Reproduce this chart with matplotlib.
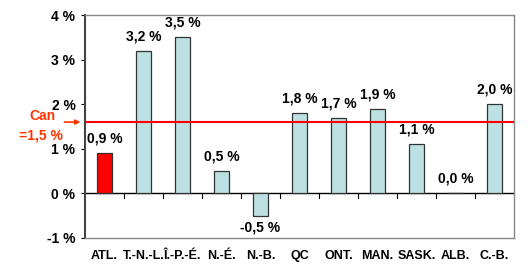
import matplotlib
matplotlib.use("Agg")
import matplotlib.pyplot as plt
import numpy as np

plt.rcParams['font.family'] = ['Liberation Sans', 'DejaVu Sans']

regions = ["ATL.", "T.-N.-L.", "Î.-P.-É.", "N.-É.", "N.-B.", "QC", "ONT.",
           "MAN.", "SASK.", "ALB.", "C.-B."]
growth = [0.9, 3.2, 3.5, 0.5, -0.5, 1.8, 1.7, 1.9, 1.1, 0.0, 2.0]
value_labels = ["0,9 %", "3,2 %", "3,5 %", "0,5 %", "-0,5 %", "1,8 %", "1,7 %",
                "1,9 %", "1,1 %", "0,0 %", "2,0 %"]
can_line = 1.6
yticks = [-1, 0, 1, 2, 3, 4]
ytick_labels = ["-1 %", "0 %", "1 %", "2 %", "3 %", "4 %"]

fig = plt.figure(figsize=(5.32, 2.65), dpi=100)
ax = fig.add_axes([0.16, 0.102, 0.806, 0.841])

x = np.arange(len(regions))
colors = ['#ff0000'] + ['#bde0e3'] * (len(regions) - 1)
ax.bar(x, growth, width=0.4, color=colors, edgecolor='#333333', linewidth=0.9, zorder=3)

# ligne canadienne
ax.axhline(can_line, color='#ff0000', linewidth=1.5, zorder=4)
ax.axhline(0, color='black', linewidth=1.0, zorder=2)
for b in np.arange(0.5, len(regions) - 1, 1.0):
    ax.plot([b, b], [0, -0.11], color='black', linewidth=0.8, zorder=2, clip_on=False)

for xi, v, lab in zip(x, growth, value_labels):
    if v < 0:
        ax.text(xi, v - 0.1, lab, ha='center', va='top', fontsize=10, fontweight='bold')
    else:
        ax.text(xi, v + 0.17, lab, ha='center', va='bottom', fontsize=10, fontweight='bold')

ax.set_xlim(-0.5, len(regions) - 0.5)
ax.set_ylim(-1, 4)
ax.set_yticks(yticks)
ax.set_yticklabels(ytick_labels, fontsize=10, fontweight='bold')
ax.tick_params(axis='y', length=3, pad=4, width=0.8)
ax.set_xticks(x)
ax.set_xticklabels(regions, fontsize=9, fontweight='bold')
ax.tick_params(axis='x', length=0, pad=9)

ax.spines['left'].set_color('#444444')
ax.spines['left'].set_linewidth(1.5)
for s in ['top', 'right', 'bottom']:
    ax.spines[s].set_color('#888888')
    ax.spines[s].set_linewidth(1.0)

# annotation Can =1,5 %
ax.annotate('', xy=(-0.55, can_line), xytext=(-1.1, can_line),
            xycoords='data', annotation_clip=False,
            arrowprops=dict(arrowstyle='-|>', color='#ff3300', lw=1.2, mutation_scale=7))
fig.text(42 / 532, 1 - 116 / 265, "Can", color='#ff3300', fontsize=10, fontweight='bold',
         ha='center', va='center')
fig.text(41 / 532, 1 - 135 / 265, "=1,5 %", color='#ff3300', fontsize=10, fontweight='bold',
         ha='center', va='center')

fig.savefig("out.png", dpi=100)
